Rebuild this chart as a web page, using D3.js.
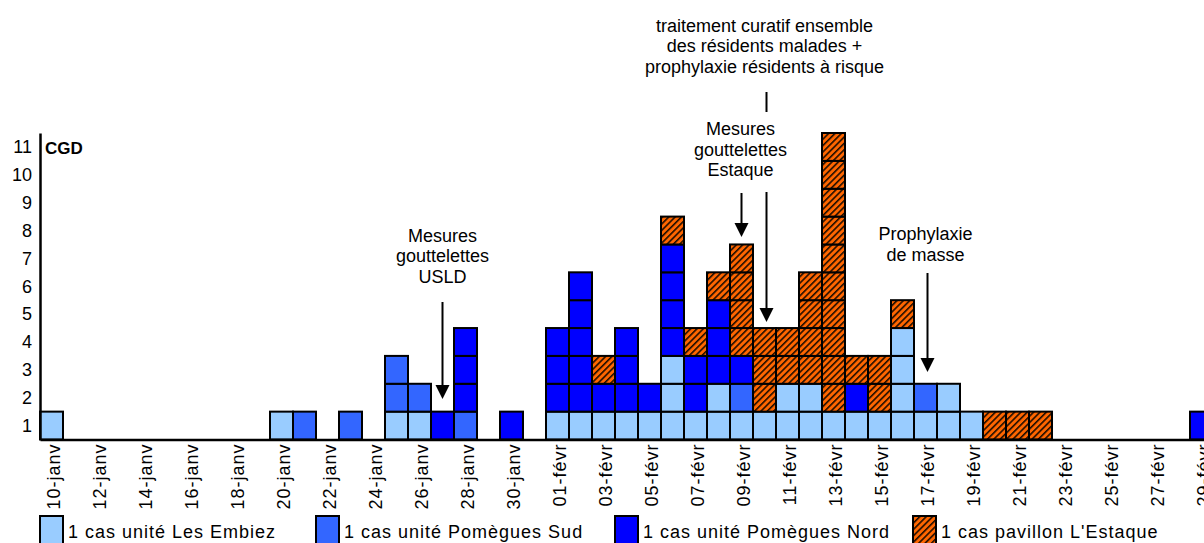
<!DOCTYPE html>
<html>
<head>
<meta charset="utf-8">
<script src="https://cdn.jsdelivr.net/npm/d3@7"></script>
<style>
body { margin: 0; background: #fff; }
svg { font-family: "Liberation Sans", Arial, sans-serif; }
</style>
</head>
<body>
<svg id="chart" width="1204" height="543"></svg>
<script>
// days shown on the x axis (2012, leap year)
const firstDay = new Date(2012, 0, 10);
const endDay = new Date(2012, 2, 1);
const monthNames = ["janv", "févr"];

// cases per day, stacked bottom to top
// E = Les Embiez, S = Pomègues Sud, N = Pomègues Nord, L = pavillon L'Estaque
const cases = [
  "E", "", "", "", "", "", "", "", "", "",          // 10 -> 19 janv
  "E", "S", "", "S", "", "ESS", "ES", "N", "SNNN", "", // 20 -> 29 janv
  "N", "",                                          // 30, 31 janv
  "ENNN", "ENNNNN", "ENL", "ENNN", "EN", "EEENNNNL", "ENNL", "EENNNL", // 01 -> 08 févr
  "ESNLLLL", "ELLL", "EELL", "EELLLL", "ELLLLLLLLLL", "ENL", "ELL", "EEEEL", // 09 -> 16 févr
  "ES", "EE", "E", "L", "L", "L", "", "", "", "", "", "", "N"  // 17 -> 29 févr
];

const units = ["E", "S", "N", "L"];
const unitNames = ["1 cas unité Les Embiez", "1 cas unité Pomègues Sud",
                   "1 cas unité Pomègues Nord", "1 cas pavillon L'Estaque"];
const unitColors = ["#99ccff", "#3366ff", "#0000ff", "url(#hatch)"];

const yTicks = [1, 2, 3, 4, 5, 6, 7, 8, 9, 10, 11];

const days = d3.timeDay.range(firstDay, endDay);
const dayLabels = days.map(d => d3.timeFormat("%d")(d) + "-" + monthNames[d.getMonth()]);
const tickLabels = dayLabels.filter((d, i) => i % 2 == 0);

const svg = d3.select("#chart");

// hatch for L'Estaque
const pat = svg.append("defs").append("pattern")
  .attr("id", "hatch")
  .attr("patternUnits", "userSpaceOnUse")
  .attr("width", 4.5).attr("height", 4.5)
  .attr("patternTransform", "rotate(45)");
pat.append("rect").attr("width", 4.5).attr("height", 4.5).attr("fill", "#ff6600");
pat.append("line").attr("x1", 0.8).attr("x2", 0.8).attr("y1", 0).attr("y2", 4.5)
  .attr("stroke", "#000").attr("stroke-width", 1.4);

const x = d3.scaleBand()
  .domain(dayLabels)
  .range([40, 40 + dayLabels.length * 23])
  .padding(0);

const y = d3.scaleLinear()
  .domain([0, 11])
  .range([439.5, 133]);

const color = d3.scaleOrdinal().domain(units).range(unitColors);

// one cell per case
const cells = [];
cases.forEach((s, i) => {
  s.split("").forEach((u, k) => cells.push({day: dayLabels[i], unit: u, level: k}));
});

svg.append("g")
  .selectAll("rect")
  .data(cells)
  .enter()
  .append("rect")
  .attr("x", d => x(d.day))
  .attr("y", d => y(d.level + 1))
  .attr("width", x.bandwidth())
  .attr("height", d => y(d.level) - y(d.level + 1))
  .attr("fill", d => color(d.unit))
  .attr("stroke", "#000")
  .attr("stroke-width", 2);

// y axis, labels in the middle of each row
const yAxis = d3.axisLeft(y)
  .tickValues(yTicks.map(v => v - 0.5))
  .tickFormat(v => v + 0.5)
  .tickSize(0)
  .tickPadding(8);

const gy = svg.append("g")
  .attr("transform", "translate(40,0)")
  .call(yAxis);
gy.select(".domain").attr("stroke", "#000").attr("stroke-width", 2.5);
gy.selectAll("text").attr("font-size", 18).attr("fill", "#000")
  .attr("font-family", "Liberation Sans, Arial, sans-serif");

svg.append("text")
  .attr("x", 45).attr("y", 154)
  .attr("font-size", 17).attr("font-weight", "bold")
  .text("CGD");

// x axis
const xAxis = d3.axisBottom(x)
  .tickValues(tickLabels)
  .tickSize(0)
  .tickSizeOuter(0);

const gx = svg.append("g")
  .attr("transform", "translate(0,439.5)")
  .call(xAxis);
gx.select(".domain").attr("stroke", "#000").attr("stroke-width", 2.5);
gx.selectAll("text")
  .attr("font-size", 18).attr("fill", "#000")
  .attr("font-family", "Liberation Sans, Arial, sans-serif")
  .attr("letter-spacing", "1px")
  .attr("text-anchor", "end")
  .attr("transform", "rotate(-90)")
  .attr("x", -4).attr("y", 0).attr("dy", "0.45em");

// annotations
function arrow(xc, y0, y1, head) {
  svg.append("line")
    .attr("x1", xc).attr("x2", xc)
    .attr("y1", y0).attr("y2", head ? y1 - 13 : y1)
    .attr("stroke", "#000").attr("stroke-width", 2);
  if (head) {
    svg.append("path")
      .attr("d", d3.line()([[xc - 7, y1 - 14], [xc + 7, y1 - 14], [xc, y1]]) + "Z")
      .attr("fill", "#000");
  }
}

function note(xc, y0, lines) {
  svg.append("text")
    .attr("font-size", 18).attr("text-anchor", "middle")
    .selectAll("tspan")
    .data(lines)
    .enter()
    .append("tspan")
    .attr("x", xc)
    .attr("y", (d, i) => y0 + i * 20.5)
    .text(d => d);
}

const cx = lbl => x(lbl) + x.bandwidth() / 2;

note(cx("27-janv"), 241.5, ["Mesures", "gouttelettes", "USLD"]);
arrow(cx("27-janv"), 302, 399, true);

note(cx("09-févr") - 1, 135, ["Mesures", "gouttelettes", "Estaque"]);
arrow(cx("09-févr"), 193, 237, true);

note(cx("10-févr"), 31.5, ["traitement curatif ensemble", "des résidents malades +",
                            "prophylaxie résidents à risque"]);
arrow(cx("10-févr") + 2, 92, 112, false);
arrow(cx("10-févr") + 2, 192, 322, true);

note(cx("17-févr"), 240, ["Prophylaxie", "de masse"]);
arrow(cx("17-févr") + 2, 273, 372, true);

// legend
const legendX = [40, 316, 615, 913];
const leg = svg.append("g")
  .selectAll("g")
  .data(units)
  .enter()
  .append("g")
  .attr("transform", (d, i) => "translate(" + legendX[i] + ",516)");
leg.append("rect")
  .attr("width", 23).attr("height", 30)
  .attr("fill", d => color(d))
  .attr("stroke", "#000").attr("stroke-width", 2);
leg.append("text")
  .attr("x", 28).attr("y", 22)
  .attr("font-size", 18)
  .attr("letter-spacing", "1px")
  .text((d, i) => unitNames[i]);
</script>
</body>
</html>
